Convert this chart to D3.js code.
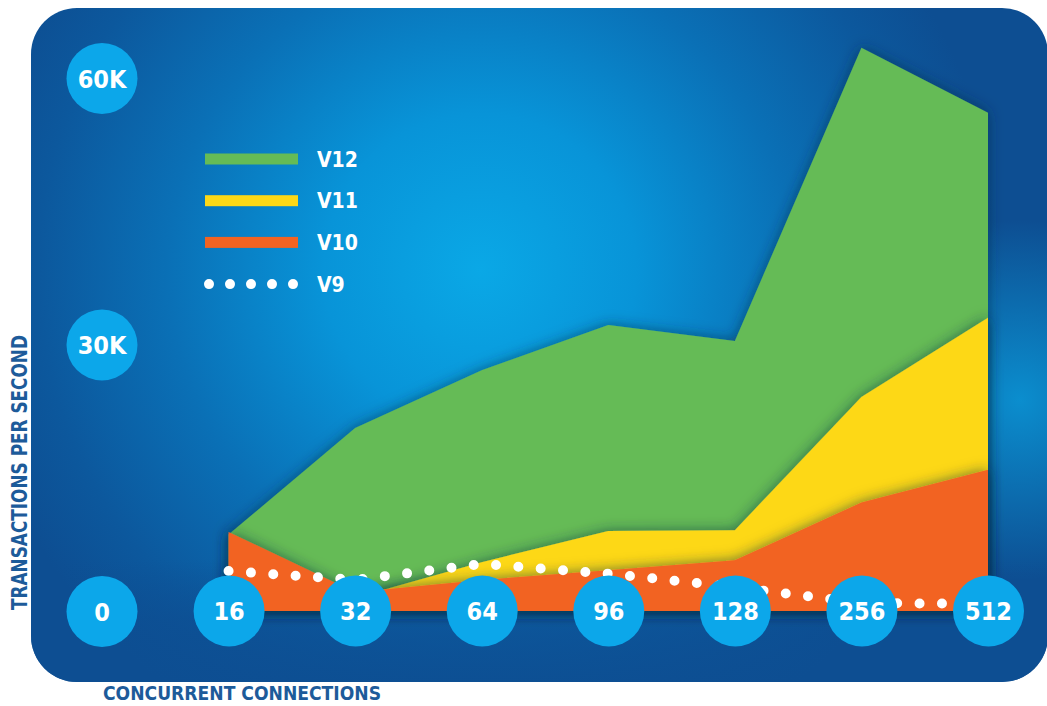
<!DOCTYPE html>
<html>
<head>
<meta charset="utf-8">
<script src="https://cdn.jsdelivr.net/npm/d3@7"></script>
<style>
  body { margin: 0; background: #ffffff; }
  svg { display: block; }
  text { font-family: "DejaVu Sans Condensed", "Liberation Sans Narrow", sans-serif; font-stretch: condensed; font-weight: bold; }
</style>
</head>
<body>
<svg id="chart" width="1047" height="706"></svg>
<script>

//// DATA

// Concurrent connections (x categories)
var categories = ["16", "32", "64", "96", "128", "256", "512"];
// Transactions per second, one array per version
var v12 = [8600, 20600, 27100, 32200, 30400, 63400, 56100];
var v11 = [5000, 1500, 5500, 9000, 9100, 24100, 33000];
var v10 = [8900, 2100, 3500, 4600, 5700, 12200, 15900];
var v9  = [4500, 3500, 5300, 4200, 2700, 900, 800];
// Y axis ticks and labels
var yTicks = [0, 30000, 60000];
var yTickLabels = ["0", "30K", "60K"];
// Legend
var legendNames = ["V12", "V11", "V10", "V9"];
var legendColors = ["#65bb56", "#fdd817", "#f26322", "#ffffff"];


//// MAIN

var svg = d3.select("#chart");
var defs = svg.append("defs");

// Background glow of the panel
var bg = defs.append("radialGradient")
    .attr("id", "bgGlow")
    .attr("gradientUnits", "userSpaceOnUse")
    .attr("cx", 480).attr("cy", 270).attr("r", 520);
bg.append("stop").attr("offset", "0").attr("stop-color", "#0aa8e6");
bg.append("stop").attr("offset", "0.3").attr("stop-color", "#0894d8");
bg.append("stop").attr("offset", "0.6").attr("stop-color", "#0a70b6");
bg.append("stop").attr("offset", "0.85").attr("stop-color", "#0c589d");
bg.append("stop").attr("offset", "1").attr("stop-color", "#0d4e92");

// Second glow near the right edge
var bg2 = defs.append("radialGradient")
    .attr("id", "bgGlow2")
    .attr("gradientUnits", "userSpaceOnUse")
    .attr("cx", 1020).attr("cy", 400).attr("r", 180);
bg2.append("stop").attr("offset", "0").attr("stop-color", "#0aa3e2").attr("stop-opacity", 0.75);
bg2.append("stop").attr("offset", "1").attr("stop-color", "#0aa3e2").attr("stop-opacity", 0);

// Dark band along the bottom of the panel
var bg3 = defs.append("linearGradient")
    .attr("id", "bgBottom")
    .attr("gradientUnits", "userSpaceOnUse")
    .attr("x1", 0).attr("y1", 560).attr("x2", 0).attr("y2", 682);
bg3.append("stop").attr("offset", "0").attr("stop-color", "#0d4e92").attr("stop-opacity", 0);
bg3.append("stop").attr("offset", "0.5").attr("stop-color", "#0d4e92").attr("stop-opacity", 0.7);
bg3.append("stop").attr("offset", "1").attr("stop-color", "#0d4e92").attr("stop-opacity", 0.9);

// Soft shadow for the areas
var shadow = defs.append("filter")
    .attr("id", "soft")
    .attr("x", "-20%").attr("y", "-20%").attr("width", "140%").attr("height", "140%");
shadow.append("feDropShadow")
    .attr("dx", 0).attr("dy", 0)
    .attr("stdDeviation", 7)
    .attr("flood-color", "#0a2a40")
    .attr("flood-opacity", 0.6);

var clip = defs.append("clipPath").attr("id", "panelClip");
clip.append("rect")
    .attr("x", 31).attr("y", 8).attr("width", 1017).attr("height", 674).attr("rx", 46);

// Panel
["url(#bgGlow)", "url(#bgGlow2)", "url(#bgBottom)"].forEach(function(f) {
    svg.append("rect")
        .attr("x", 31).attr("y", 8).attr("width", 1017).attr("height", 674).attr("rx", 46)
        .attr("fill", f);
});

// Scales
var x = d3.scalePoint()
    .domain(["0"].concat(categories))
    .range([102, 988]);

var y = d3.scaleLinear()
    .domain([0, 60000])
    .range([611, 78]);

var plot = svg.append("g").attr("clip-path", "url(#panelClip)");

// Areas, drawn back to front
var area = d3.area()
    .x(function(d, i) { return x(categories[i]); })
    .y0(y(0))
    .y1(function(d) { return y(d); });

var series = [v12, v11, v10];
var seriesColors = ["#65bb56", "#fdd817", "#f26322"];

series.forEach(function(s, i) {
    plot.append("path")
        .datum(s)
        .attr("d", area)
        .attr("fill", seriesColors[i])
        .attr("filter", "url(#soft)");
});

// V9 dotted line
var line = d3.line()
    .x(function(d, i) { return x(categories[i]); })
    .y(function(d) { return y(d); });

plot.append("path")
    .datum(v9)
    .attr("d", line)
    .attr("fill", "none")
    .attr("stroke", "#ffffff")
    .attr("stroke-width", 10)
    .attr("stroke-linecap", "round")
    .attr("stroke-dasharray", "0 22.4");

// X axis with round tick badges
var xAxis = svg.append("g")
    .attr("transform", "translate(0," + y(0) + ")")
    .call(d3.axisBottom(x).tickValues(categories).tickSize(0).tickPadding(0));
styleAxis(xAxis);

// Y axis with round tick badges
var yAxis = svg.append("g")
    .attr("transform", "translate(" + x("0") + ",0)")
    .call(d3.axisLeft(y).tickValues(yTicks).tickSize(0).tickPadding(0)
        .tickFormat(function(d, i) { return yTickLabels[i]; }));
styleAxis(yAxis);

// Legend
var legend = svg.append("g").attr("transform", "translate(205,159)");
legendNames.forEach(function(name, i) {
    var row = legend.append("g").attr("transform", "translate(0," + (i * 41.7) + ")");
    if (name == "V9") {
        row.append("line")
            .attr("x1", 4).attr("x2", 89)
            .attr("stroke", legendColors[i])
            .attr("stroke-width", 10)
            .attr("stroke-linecap", "round")
            .attr("stroke-dasharray", "0 21");
    } else {
        row.append("rect")
            .attr("x", 0).attr("y", -5.5)
            .attr("width", 93).attr("height", 11)
            .attr("fill", legendColors[i]);
    }
    row.append("text")
        .attr("x", 112).attr("dy", "0.36em")
        .attr("fill", "#ffffff")
        .style("font-size", "21px")
        .text(name);
});

// Axis titles
svg.append("text")
    .attr("x", 103).attr("y", 700)
    .attr("fill", "#1d5b9a")
    .attr("textLength", 278).attr("lengthAdjust", "spacingAndGlyphs")
    .style("font-size", "20px")
    .text("CONCURRENT CONNECTIONS");

svg.append("text")
    .attr("transform", "translate(27,610) rotate(-90)")
    .attr("fill", "#1d5b9a")
    .attr("textLength", 275).attr("lengthAdjust", "spacingAndGlyphs")
    .style("font-size", "21px")
    .text("TRANSACTIONS PER SECOND");


//// FUNCTIONS

//////////////////////////////////////////////////////
// Turns plain axis ticks into blue badges
function styleAxis(g){
//////////////////////////////////////////////////////

    g.select(".domain").remove();
    g.selectAll(".tick line").remove();
    g.selectAll(".tick").insert("circle", "text")
        .attr("r", 35.5)
        .attr("fill", "#0ca7ea");
    g.selectAll(".tick text")
        .attr("x", 0).attr("y", 0)
        .attr("dy", "0.36em")
        .attr("text-anchor", "middle")
        .attr("fill", "#ffffff")
        .style("font-size", "25px");
    g.attr("font-family", null).attr("font-size", null);
}

</script>
</body>
</html>
